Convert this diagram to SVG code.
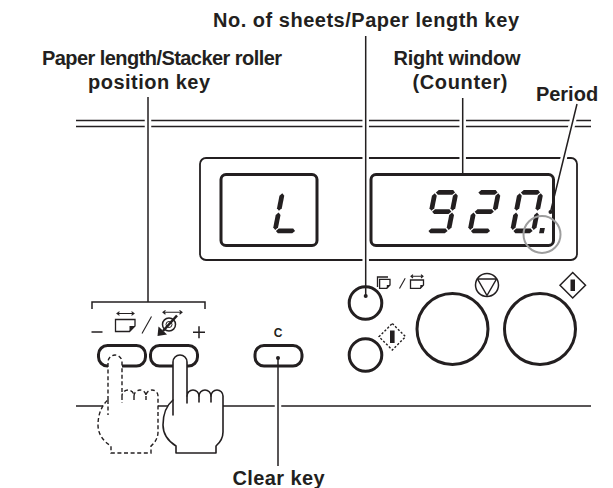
<svg xmlns="http://www.w3.org/2000/svg" xmlns:xlink="http://www.w3.org/1999/xlink" width="613" height="488" viewBox="0 0 613 488">
<style>
  .lbl{font-family:"Liberation Sans",Arial,Helvetica,sans-serif;font-weight:bold;font-size:20px;fill:#231f20;text-anchor:middle}
  .key-c{font-family:"Liberation Sans",Arial,Helvetica,sans-serif;font-weight:bold;font-size:12px;fill:#231f20;text-anchor:middle}
  .rule{stroke:#231f20;stroke-width:1.5;fill:none}
  .frame{stroke:#231f20;stroke-width:1.8;fill:#fff}
  .edge{stroke:#231f20;stroke-width:3;fill:#fff}
  .thin{stroke:#231f20;stroke-width:1.5;fill:#fff}
  .ink{fill:#231f20;stroke:none}
  .halo{stroke:#fff;stroke-width:6.5;fill:none}
  .lead{stroke:#231f20;stroke-width:1.5;fill:none}
  .seg{fill:#231f20}
  .hand{fill:#fff;stroke:#231f20;stroke-width:1.6;stroke-linejoin:round;stroke-linecap:round}
  .ghost{fill:#fff;stroke:#231f20;stroke-width:1.4;stroke-dasharray:4 2.6}
  .icon{stroke:#231f20;stroke-width:1.3;fill:#fff;stroke-linejoin:miter}
  .arrow{stroke:#231f20;stroke-width:1.1;fill:none}
</style>
<defs>
  <!-- seven-segment pieces, local box 21 x 38.5 -->
  <polygon id="sa" points="0.9,0 3.3,-2.4 17.7,-2.4 20.1,0 17.7,2.4 3.3,2.4"/>
  <polygon id="sg" points="0.9,19.25 3.3,16.85 17.7,16.85 20.1,19.25 17.7,21.65 3.3,21.65"/>
  <polygon id="sd" points="0.9,38.5 3.3,36.1 17.7,36.1 20.1,38.5 17.7,40.9 3.3,40.9"/>
  <polygon id="sf" points="0,0.9 2.4,3.3 2.4,15.95 0,18.35 -2.4,15.95 -2.4,3.3"/>
  <polygon id="sb" points="21,0.9 23.4,3.3 23.4,15.95 21,18.35 18.6,15.95 18.6,3.3"/>
  <polygon id="se" points="0,20.15 2.4,22.55 2.4,35.2 0,37.6 -2.4,35.2 -2.4,22.55"/>
  <polygon id="sc" points="21,20.15 23.4,22.55 23.4,35.2 21,37.6 18.6,35.2 18.6,22.55"/>
  <!-- pressing hand -->
  <path id="handShape" d="M173 400 V362 A7 7 0 0 1 187 362 V396 A6 6 0 0 1 199 396 A6 6 0 0 1 211 396 A6 6 0 0 1 223 396 V432 Q223 440 216 446 V453 H176 V446 C168 441 163 434 163 425 C163 414 167 405 173 400 Z"/>
  <path id="handLines" d="M173 400 V415 M187 396 V403 M199 396 V402 M211 396 V402"/>
</defs>

<rect width="613" height="488" fill="#fff"/>

<!-- panel rules -->
<g id="panel">
  <path class="rule" d="M76 120.5 H591 M76 126.5 H591 M76 406 H591"/>
  <rect class="frame" x="200" y="158" width="377" height="102" rx="6"/>
</g>

<!-- left window -->
<g id="left-window">
  <rect class="edge" x="221" y="174.5" width="96" height="71" rx="5"/>
  <g class="seg" transform="translate(282.5 192.4) skewX(-11)">
    <use xlink:href="#sf"/><use xlink:href="#se"/><use xlink:href="#sd"/>
  </g>
</g>

<!-- right window (counter) -->
<g id="right-window">
  <rect class="edge" x="371" y="174.5" width="182.5" height="71" rx="5"/>
  <g class="seg" transform="translate(435 192.4) skewX(-11)">
    <use xlink:href="#sa"/><use xlink:href="#sb"/><use xlink:href="#sc"/><use xlink:href="#sd"/><use xlink:href="#sf"/><use xlink:href="#sg"/>
  </g>
  <g class="seg" transform="translate(477.5 192.4) skewX(-11)">
    <use xlink:href="#sa"/><use xlink:href="#sb"/><use xlink:href="#sg"/><use xlink:href="#se"/><use xlink:href="#sd"/>
  </g>
  <g class="seg" transform="translate(520 192.4) skewX(-11)">
    <use xlink:href="#sa"/><use xlink:href="#sb"/><use xlink:href="#sc"/><use xlink:href="#sd"/><use xlink:href="#se"/><use xlink:href="#sf"/>
    <rect x="27" y="35.6" width="4.8" height="5.3"/>
  </g>
  <circle cx="542" cy="234.5" r="18.5" fill="none" stroke="#9d9d9d" stroke-width="2"/>
</g>

<!-- no. of sheets / paper length key -->
<g id="sheets-key">
  <circle class="edge" cx="365.5" cy="303" r="16.3"/>
  <path class="icon" d="M377.5 287 V277 H388"/>
  <path class="icon" d="M379.6 279.4 H390 V285 L386.8 288.3 H379.6 Z"/>
  <path class="ink" d="M390 285 L386.8 288.3 V285 Z"/>
  <path class="arrow" d="M399.5 288.5 L405.2 278.3"/>
  <path class="icon" d="M410.5 280 H423.5 V285 L420.3 288.3 H410.5 Z"/>
  <path class="ink" d="M423.5 285 L420.3 288.3 V285 Z"/>
  <path class="arrow" d="M411 276.3 H423 M413 274.6 L411 276.3 L413 278 M421 274.6 L423 276.3 L421 278"/>
</g>

<!-- proof key -->
<g id="proof-key">
  <circle class="edge" cx="365.5" cy="355" r="16.3"/>
  <path d="M392.3 323.5 L405.5 336.7 L392.3 350 L379 336.7 Z" fill="#fff" stroke="#231f20" stroke-width="1.4" stroke-dasharray="2.2 1.8"/>
  <rect class="ink" x="390" y="330.5" width="4.6" height="12.5"/>
</g>

<!-- stop key -->
<g id="stop-key">
  <circle class="edge" cx="452.5" cy="329" r="35.5" stroke-width="3.2"/>
  <circle class="thin" cx="487" cy="285" r="11.5"/>
  <path class="thin" d="M477.5 279 H496.5 L487 295.5 Z" stroke-linejoin="round"/>
</g>

<!-- start key -->
<g id="start-key">
  <circle class="edge" cx="540" cy="329" r="35.5" stroke-width="3.2"/>
  <path class="thin" d="M572.7 272.5 L585.5 285.3 L572.7 298 L560 285.3 Z" stroke-width="1.8"/>
  <rect class="ink" x="570.5" y="279.5" width="4.5" height="11.5"/>
</g>

<!-- paper length / stacker roller position keys -->
<g id="position-keys">
  <path class="lead" d="M91.5 332 H102.5" stroke-width="1.8"/>
  <path class="lead" d="M193 332.3 H205 M199 326.3 V338.3" stroke-width="1.6"/>
  <path class="icon" d="M115.5 319.5 H135 V326 L129.5 331.5 H115.5 Z" stroke-width="1.4"/>
  <path class="ink" d="M135 326 L129.5 331.5 V326 Z"/>
  <path class="arrow" d="M117 313.5 H134 M119.5 311.6 L117 313.5 L119.5 315.4 M131.5 311.6 L134 313.5 L131.5 315.4"/>
  <path class="arrow" d="M142 333.5 L151.5 316.5" stroke-width="1.4"/>
  <path class="arrow" d="M163 312.3 H182 M165.5 310.4 L163 312.3 L165.5 314.2 M179.5 310.4 L182 312.3 L179.5 314.2"/>
  <circle cx="169" cy="324.5" r="6.5" fill="#fff" stroke="#231f20" stroke-width="1.5"/>
  <circle cx="169" cy="324.5" r="3" fill="none" stroke="#231f20" stroke-width="1"/>
  <path d="M177 315.5 L163 331" stroke="#231f20" stroke-width="2.6" fill="none"/>
  <path class="ink" d="M157.5 336 L158.5 326.5 L167 334.5 Z"/>
  <rect class="edge" x="98.5" y="345.5" width="47" height="20.5" rx="9"/>
  <rect class="edge" x="150.5" y="345.5" width="47" height="20.5" rx="9"/>
</g>

<!-- clear key -->
<g id="clear-key">
  <text class="key-c" x="278" y="337">C</text>
  <rect class="edge" x="255" y="345.5" width="47" height="20.5" rx="9"/>
</g>

<!-- hands: previous position (dashed) and pressing -->
<g id="hand-ghost" transform="translate(-65 0)">
  <use xlink:href="#handShape" class="ghost"/>
  <use xlink:href="#handLines" class="ghost" style="fill:none"/>
</g>
<g id="hand">
  <use xlink:href="#handShape" class="hand"/>
  <use xlink:href="#handLines" class="hand" style="fill:none"/>
</g>

<!-- leader lines -->
<g id="connectors">
  <path class="halo" d="M148 104 V290 M365.7 40 V284 M462.7 104 V170 M576 108 L560.3 172 M278 376 V462"/>
  <path class="lead" d="M148 97 V302 M365.7 36 V296 M462.7 98 V174.5 M577 104 L550.5 212 M278 358 V466"/>
  <path class="lead" d="M92 309 V302 H205 V309"/>
  <circle class="ink" cx="365.7" cy="296" r="2"/>
  <circle class="ink" cx="550.5" cy="212" r="2"/>
  <circle class="ink" cx="278" cy="358" r="2"/>
</g>

<!-- labels -->
<g id="labels">
  <text class="lbl" x="366" y="27" textLength="306">No. of sheets/Paper length key</text>
  <text class="lbl" x="162" y="65" textLength="240">Paper length/Stacker roller</text>
  <text class="lbl" x="149" y="89" textLength="122">position key</text>
  <text class="lbl" x="457" y="65" textLength="127">Right window</text>
  <text class="lbl" x="460" y="89" textLength="95">(Counter)</text>
  <text class="lbl" x="567" y="101">Period</text>
  <text class="lbl" x="278.5" y="485" textLength="92">Clear key</text>
</g>
</svg>
